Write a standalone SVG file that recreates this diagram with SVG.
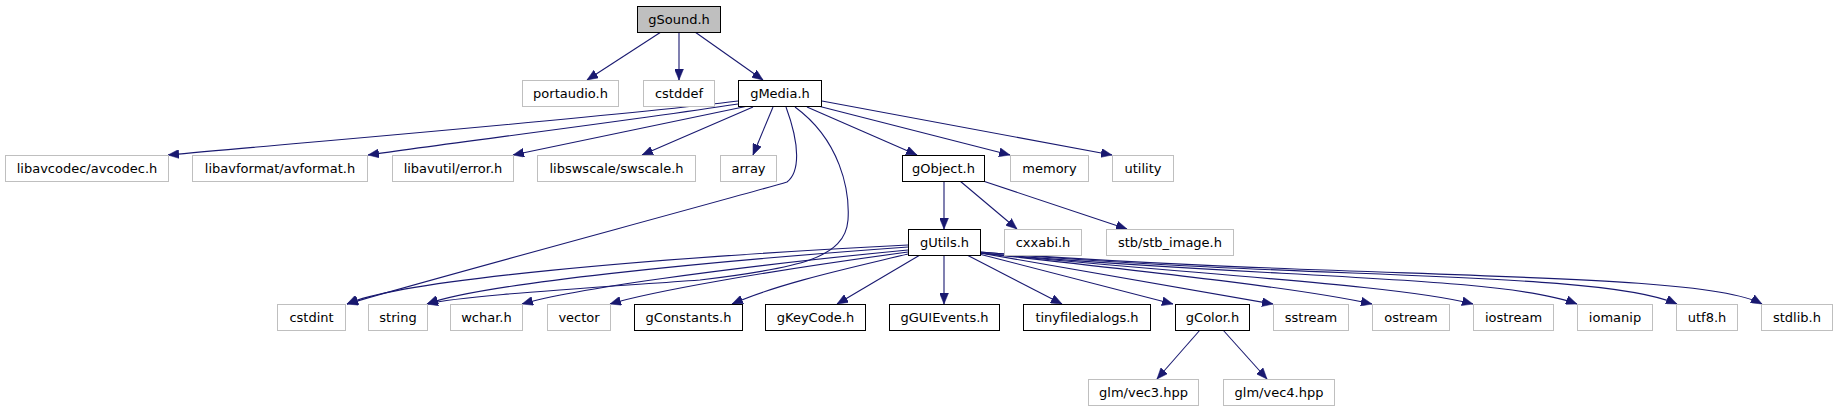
<svg xmlns="http://www.w3.org/2000/svg" width="1837" height="411" viewBox="0 0 1837 411">
<style>
.n rect{fill:#fff;stroke:#000;stroke-width:1}
.n.ext rect{stroke:#bfbfbf}
.n.root rect{fill:#bfbfbf;stroke:#000}
.n text{font-family:"DejaVu Sans",sans-serif;font-size:13px;fill:#000;text-anchor:middle}
#edges path{fill:none;stroke:#191970;stroke-width:1.1;marker-end:url(#ah)}
</style>
<defs>
<marker id="ah" markerUnits="userSpaceOnUse" markerWidth="11" markerHeight="9" viewBox="0 0 11 9" refX="11" refY="4.5" orient="auto">
<path d="M0,0 L11,4.5 L0,9 z" fill="#191970" stroke="#191970" stroke-width="0.5"/>
</marker>
</defs>
<rect width="1837" height="411" fill="#fff"/>
<g id="edges">
<path d="M661,32 L587,80"/>
<path d="M679,32 L679,80"/>
<path d="M695,32 L763,80"/>
<path d="M738,101 C600,118 320,141 168,155"/>
<path d="M738,104 C620,122 450,143 368,155"/>
<path d="M748,106 L513,155"/>
<path d="M753,107 L642,155"/>
<path d="M773,107 L753,155"/>
<path d="M786,107 C800,145 800,172 787,182 C740,196 420,282 347,304"/>
<path d="M795,107 C840,140 850,190 848,220 C845,258 800,268 700,280 C560,290 460,296 427,304"/>
<path d="M807,107 L917,155"/>
<path d="M818,106 L1010,155"/>
<path d="M822,101 L1112,155"/>
<path d="M944,181 L944,229"/>
<path d="M960,181 L1017,229"/>
<path d="M983,181 L1127,229"/>
<path d="M908,245 C650,258 400,280 347,304"/>
<path d="M908,247 C700,262 480,284 427,304"/>
<path d="M908,250 C720,268 570,290 522,304"/>
<path d="M908,252 C760,272 650,292 610,304"/>
<path d="M908,254 C850,268 780,283 732,304"/>
<path d="M920,255 L837,304"/>
<path d="M944,255 L944,304"/>
<path d="M967,255 L1062,304"/>
<path d="M979,254 L1173,304"/>
<path d="M980,253 L1273,304"/>
<path d="M980,253 C1150,272 1300,288 1372,304"/>
<path d="M980,253 C1200,275 1400,285 1473,304"/>
<path d="M980,253 C1250,278 1500,275 1577,304"/>
<path d="M980,252 C1300,280 1600,270 1677,304"/>
<path d="M980,252 C1350,280 1700,270 1762,304"/>
<path d="M1200,330 L1157,379"/>
<path d="M1223,330 L1267,379"/>
</g>
<g id="gSound" class="n root"><rect x="637.5" y="6.5" width="83" height="26"/><text x="679" y="24">gSound.h</text></g>
<g id="portaudio" class="n ext"><rect x="522.5" y="80.5" width="96" height="26"/><text x="570.5" y="98">portaudio.h</text></g>
<g id="cstddef" class="n ext"><rect x="643.5" y="80.5" width="71" height="26"/><text x="679" y="98">cstddef</text></g>
<g id="gMedia" class="n"><rect x="738.5" y="80.5" width="83" height="26"/><text x="780" y="98">gMedia.h</text></g>
<g id="libavcodec" class="n ext"><rect x="5.5" y="155.5" width="163" height="26"/><text x="87" y="173">libavcodec/avcodec.h</text></g>
<g id="libavformat" class="n ext"><rect x="192.5" y="155.5" width="175" height="26"/><text x="280" y="173">libavformat/avformat.h</text></g>
<g id="libavutil" class="n ext"><rect x="392.5" y="155.5" width="121" height="26"/><text x="453" y="173">libavutil/error.h</text></g>
<g id="libswscale" class="n ext"><rect x="537.5" y="155.5" width="158" height="26"/><text x="616.5" y="173">libswscale/swscale.h</text></g>
<g id="array" class="n ext"><rect x="720.5" y="155.5" width="56" height="26"/><text x="748.5" y="173">array</text></g>
<g id="gObject" class="n"><rect x="902.5" y="155.5" width="82" height="26"/><text x="943.5" y="173">gObject.h</text></g>
<g id="memory" class="n ext"><rect x="1010.5" y="155.5" width="78" height="26"/><text x="1049.5" y="173">memory</text></g>
<g id="utility" class="n ext"><rect x="1112.5" y="155.5" width="61" height="26"/><text x="1143" y="173">utility</text></g>
<g id="gUtils" class="n"><rect x="908.5" y="229.5" width="72" height="26"/><text x="944.5" y="247">gUtils.h</text></g>
<g id="cxxabi" class="n ext"><rect x="1004.5" y="229.5" width="77" height="26"/><text x="1043" y="247">cxxabi.h</text></g>
<g id="stb_image" class="n ext"><rect x="1106.5" y="229.5" width="127" height="26"/><text x="1170" y="247">stb/stb_image.h</text></g>
<g id="cstdint" class="n ext"><rect x="277.5" y="304.5" width="68" height="26"/><text x="311.5" y="322">cstdint</text></g>
<g id="string" class="n ext"><rect x="368.5" y="304.5" width="59" height="26"/><text x="398" y="322">string</text></g>
<g id="wchar" class="n ext"><rect x="450.5" y="304.5" width="72" height="26"/><text x="486.5" y="322">wchar.h</text></g>
<g id="vector" class="n ext"><rect x="547.5" y="304.5" width="63" height="26"/><text x="579" y="322">vector</text></g>
<g id="gConstants" class="n"><rect x="634.5" y="304.5" width="108" height="26"/><text x="688.5" y="322">gConstants.h</text></g>
<g id="gKeyCode" class="n"><rect x="765.5" y="304.5" width="100" height="26"/><text x="815.5" y="322">gKeyCode.h</text></g>
<g id="gGUIEvents" class="n"><rect x="889.5" y="304.5" width="110" height="26"/><text x="944.5" y="322">gGUIEvents.h</text></g>
<g id="tinyfiledialogs" class="n"><rect x="1023.5" y="304.5" width="127" height="26"/><text x="1087" y="322">tinyfiledialogs.h</text></g>
<g id="gColor" class="n"><rect x="1175.5" y="304.5" width="74" height="26"/><text x="1212.5" y="322">gColor.h</text></g>
<g id="sstream" class="n ext"><rect x="1273.5" y="304.5" width="75" height="26"/><text x="1311" y="322">sstream</text></g>
<g id="ostream" class="n ext"><rect x="1372.5" y="304.5" width="77" height="26"/><text x="1411" y="322">ostream</text></g>
<g id="iostream" class="n ext"><rect x="1473.5" y="304.5" width="80" height="26"/><text x="1513.5" y="322">iostream</text></g>
<g id="iomanip" class="n ext"><rect x="1577.5" y="304.5" width="75" height="26"/><text x="1615" y="322">iomanip</text></g>
<g id="utf8" class="n ext"><rect x="1676.5" y="304.5" width="61" height="26"/><text x="1707" y="322">utf8.h</text></g>
<g id="stdlib" class="n ext"><rect x="1761.5" y="304.5" width="71" height="26"/><text x="1797" y="322">stdlib.h</text></g>
<g id="vec3" class="n ext"><rect x="1088.5" y="379.5" width="110" height="26"/><text x="1143.5" y="397">glm/vec3.hpp</text></g>
<g id="vec4" class="n ext"><rect x="1223.5" y="379.5" width="111" height="26"/><text x="1279" y="397">glm/vec4.hpp</text></g>
</svg>
